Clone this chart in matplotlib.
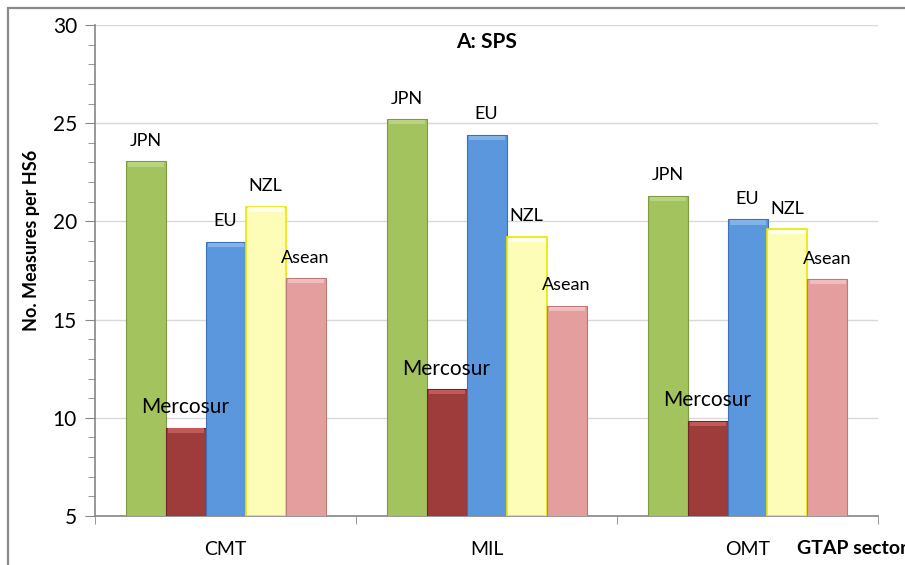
import matplotlib

matplotlib.use("Agg")
import matplotlib.pyplot as plt
from matplotlib.patches import Rectangle
from matplotlib.ticker import MultipleLocator
import numpy as np

sectors = ["CMT", "MIL", "OMT"]
regions = ["JPN", "Mercosur", "EU", "NZL", "Asean"]
jpn = [23.05, 25.2, 21.3]
mercosur = [9.5, 11.45, 9.85]
eu = [18.95, 24.4, 20.1]
nzl = [20.75, 19.2, 19.6]
asean = [17.1, 15.7, 17.05]

faces = ["#a2c35e", "#9e3b3b", "#5b97dd", "#fdfdb8", "#e59e9e"]
edges = ["#7e9a45", "#6e2626", "#3f72b5", "#e8e800", "#b97a7a"]
tops = ["#b9d47f", "#c25a5a", "#82b2ea", "#fffff0", "#f0bcbc"]

plt.rcParams["font.family"] = ["Lato", "DejaVu Sans"]

fig = plt.figure(figsize=(9.05, 5.65), dpi=100)
W, H = 905, 565
ax = fig.add_axes([95 / W, (H - 516) / H, (878 - 95) / W, (516 - 25) / H])

# outer chart frame, cut off at right/bottom like the source
fig.patches.append(Rectangle((8 / W, -0.1), 1.2, 1.1 - 8 / H,
                             transform=fig.transFigure, fill=False,
                             edgecolor="#8a8a8a", linewidth=1.6))

x = np.arange(len(sectors))
w = 40 / 261
series = [jpn, mercosur, eu, nzl, asean]
for i, vals in enumerate(series):
    pos = x + (i - 2) * w
    v = np.array(vals)
    ax.bar(pos, v - 5, bottom=5, width=w, color=faces[i], edgecolor=edges[i],
           linewidth=1.2 if i == 3 else 0.8, zorder=3)
    ax.bar(pos, 0.22, bottom=v - 0.26, width=w * 0.9, color=tops[i],
           linewidth=0, zorder=4)
    for px, val in zip(pos, v):
        fs = 15 if regions[i] == "Mercosur" else 13
        ax.text(px, val + 1.05, regions[i], ha="center", va="center",
                fontsize=fs, color="black", zorder=5)

ax.set_xlim(-0.5, 2.5)
ax.set_ylim(5, 30)
ax.yaxis.set_major_locator(MultipleLocator(5))
ax.yaxis.set_minor_locator(MultipleLocator(1))
ax.grid(axis="y", which="major", color="#d9d9d9", linewidth=1, zorder=0)
ax.set_axisbelow(True)

ax.set_xticks(x)
ax.set_xticklabels(sectors, fontsize=14)
ax.set_xticks([-0.5, 0.5, 1.5, 2.5], minor=True)
ax.tick_params(axis="x", which="major", length=0, pad=18)
ax.tick_params(axis="x", which="minor", length=6, color="#868686")
ax.tick_params(axis="y", which="major", length=7, color="#868686",
               labelsize=15, pad=6)
ax.tick_params(axis="y", which="minor", length=5, color="#868686")

for s in ["top", "right"]:
    ax.spines[s].set_visible(False)
for s in ["left", "bottom"]:
    ax.spines[s].set_color("#868686")
    ax.spines[s].set_linewidth(1.2)

ax.text(0.5, 0.965, "A: SPS", transform=ax.transAxes, ha="center",
        va="center", fontsize=15, fontweight="bold")
fig.text(32 / W, 1 - 240 / H, "No. Measures per HS6", rotation=90,
         ha="center", va="center", fontsize=13, fontweight="bold")
fig.text(797 / W, 1 - 549 / H, "GTAP sector", ha="left", va="center",
         fontsize=14, fontweight="bold")

fig.savefig("out.png", dpi=100)
